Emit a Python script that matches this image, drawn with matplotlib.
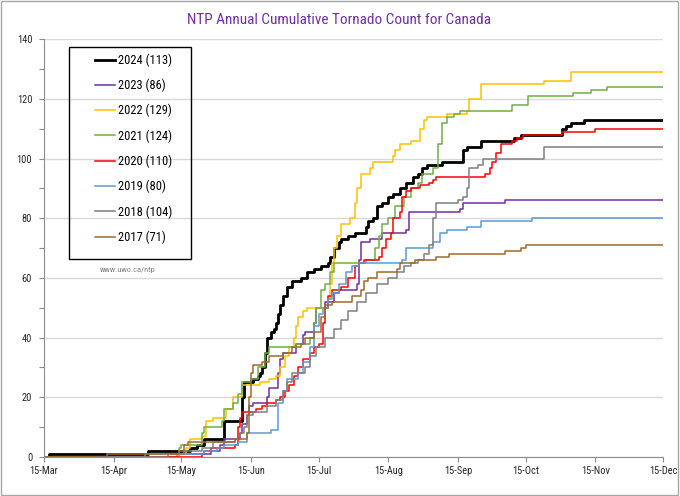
import numpy as np
import matplotlib
matplotlib.use('Agg')
import matplotlib.pyplot as plt
import matplotlib.dates as mdates
from matplotlib import font_manager
from matplotlib.patches import Rectangle
from matplotlib.ticker import MultipleLocator

# pick a narrow face if one is installed
names = {f.name for f in font_manager.fontManager.ttflist}
FONT = next((n for n in ['Roboto Condensed', 'Liberation Sans Narrow', 'Open Sans Condensed']
             if n in names), 'DejaVu Sans')
plt.rcParams['font.family'] = [FONT, 'DejaVu Sans']

START = np.datetime64('2023-03-15')   # day 0 of the season axis

# days after 15-Mar, cumulative count at that day
d24 = [0, 2, 46, 65, 68, 71, 80, 88, 89, 93, 95, 96, 97, 98, 99, 101, 102, 103, 104, 105,
       106, 108, 110, 114, 117, 120, 123, 126, 127, 129, 131, 132, 135, 138, 143, 144, 146, 148, 150, 153,
       155, 158, 161, 164, 166, 168, 170, 177, 186, 188, 194, 209, 212, 230, 232, 234, 240, 275]
v24 = [0, 1, 2, 3, 4, 6, 12, 20, 25, 26, 27, 28, 30, 35, 40, 42, 43, 45, 48, 51,
       54, 57, 59, 60, 62, 63, 64, 65, 67, 70, 72, 73, 74, 75, 77, 79, 80, 84, 85, 87,
       88, 90, 92, 94, 95, 97, 98, 99, 103, 104, 106, 107, 108, 110, 111, 112, 113, 113]

d23 = [0, 60, 74, 78, 80, 87, 88, 90, 91, 93, 99, 100, 104, 105, 106, 112, 115, 116, 120, 121,
       125, 129, 131, 139, 140, 141, 145, 150, 161, 162, 185, 186, 205, 275]
v23 = [0, 1, 2, 4, 6, 8, 11, 14, 17, 18, 20, 23, 28, 33, 35, 38, 41, 42, 45, 50,
       52, 55, 56, 58, 66, 72, 73, 75, 76, 82, 83, 85, 86, 86]

d22 = [0, 60, 63, 65, 70, 72, 75, 81, 84, 88, 96, 100, 103, 105, 107, 109, 111, 112, 113, 115,
       117, 126, 127, 128, 129, 130, 132, 136, 138, 139, 141, 145, 146, 155, 156, 158, 163, 167, 169, 170,
       179, 188, 189, 194, 222, 234, 275]
v22 = [0, 1, 3, 6, 7, 12, 13, 16, 20, 24, 25, 26, 27, 30, 34, 37, 40, 44, 47, 49,
       50, 53, 58, 65, 70, 74, 78, 80, 85, 90, 95, 97, 99, 101, 103, 105, 106, 110, 113, 114,
       115, 116, 120, 125, 126, 129, 129]

d21 = [0, 59, 60, 61, 70, 71, 79, 80, 84, 86, 88, 92, 95, 98, 100, 112, 118, 120, 121, 123,
       125, 127, 129, 143, 147, 149, 150, 153, 156, 160, 163, 166, 168, 173, 175, 177, 179, 182, 185, 208,
       215, 235, 243, 250, 275]
v21 = [0, 1, 3, 4, 8, 10, 12, 16, 18, 21, 25, 26, 30, 35, 37, 38, 40, 45, 50, 56,
       58, 62, 65, 66, 70, 74, 78, 80, 84, 87, 90, 92, 95, 97, 105, 112, 114, 115, 116, 118,
       121, 122, 123, 124, 124]

d20 = [0, 70, 71, 74, 85, 86, 87, 88, 94, 97, 99, 103, 105, 107, 109, 111, 113, 115, 118, 120,
       122, 124, 125, 126, 128, 132, 135, 138, 140, 142, 149, 150, 152, 154, 155, 158, 159, 161, 163, 167,
       171, 173, 174, 196, 198, 199, 201, 203, 208, 210, 213, 230, 245, 275]
v20 = [0, 1, 2, 3, 4, 10, 13, 15, 16, 17, 18, 19, 20, 22, 24, 27, 30, 33, 35, 37,
       38, 45, 50, 54, 56, 57, 60, 64, 65, 66, 67, 70, 73, 75, 80, 82, 87, 89, 90, 91,
       92, 93, 94, 95, 97, 99, 102, 105, 106, 107, 108, 109, 110, 110]

d19 = [0, 45, 71, 77, 80, 86, 90, 101, 104, 106, 108, 113, 115, 118, 120, 122, 124, 126, 128, 131,
       134, 137, 140, 159, 161, 173, 176, 179, 188, 194, 217, 275]
v19 = [0, 1, 2, 3, 4, 5, 8, 9, 18, 22, 26, 28, 32, 37, 44, 48, 50, 53, 55, 58,
       62, 64, 65, 66, 70, 72, 75, 76, 77, 79, 80, 80]

d18 = [0, 55, 62, 70, 75, 85, 87, 89, 90, 93, 99, 103, 106, 108, 110, 116, 118, 121, 125, 129,
       132, 135, 139, 143, 148, 153, 157, 160, 163, 166, 169, 171, 173, 174, 184, 186, 188, 189, 193, 195,
       222, 275]
v18 = [0, 1, 2, 3, 5, 6, 8, 10, 14, 15, 17, 19, 22, 25, 28, 30, 34, 37, 40, 43,
       46, 49, 52, 55, 58, 60, 62, 64, 65, 66, 68, 71, 80, 85, 86, 87, 90, 97, 98, 100,
       104, 104]

d17 = [0, 28, 60, 62, 64, 85, 90, 91, 92, 93, 97, 100, 106, 110, 114, 116, 120, 123, 125, 128,
       137, 141, 142, 144, 148, 157, 158, 165, 174, 180, 205, 212, 214, 275]
v17 = [0, 1, 2, 4, 5, 6, 8, 20, 28, 31, 32, 34, 35, 37, 38, 40, 42, 47, 51, 52,
       54, 56, 59, 60, 62, 63, 65, 66, 67, 68, 69, 70, 71, 71]

years = ['2024', '2023', '2022', '2021', '2020', '2019', '2018', '2017']
days = [d24, d23, d22, d21, d20, d19, d18, d17]
counts = [v24, v23, v22, v21, v20, v19, v18, v17]
colors = ['#000000', '#7030A0', '#FFC000', '#70AD47', '#FF0000', '#5B9BD5', '#7F7F7F', '#9C6A30']
widths = [2.0, 1.1, 1.1, 1.1, 1.1, 1.1, 1.1, 1.1]

fig = plt.figure(figsize=(6.8, 4.96), dpi=100)
ax = fig.add_axes([44/680, 1 - 457/496, 619/680, 417.7/496])

for yr, d, v, c, w in zip(years, days, counts, colors, widths):
    ax.plot(START + np.array(d), v, drawstyle='steps-post', color=c, lw=w,
            label=f'{yr} ({v[-1]})')

ax.set_xlim(START, START + np.timedelta64(275, 'D'))
ax.set_ylim(0, 140)
ax.xaxis.set_major_locator(mdates.MonthLocator(bymonthday=15))
ax.xaxis.set_major_formatter(mdates.DateFormatter('%d-%b'))
ax.yaxis.set_major_locator(MultipleLocator(20))
ax.yaxis.set_minor_locator(MultipleLocator(10))
ax.grid(axis='y', which='major', color='#D9D9D9', lw=1)
ax.set_axisbelow(True)

for s in ['top', 'right']:
    ax.spines[s].set_visible(False)
for s in ['left', 'bottom']:
    ax.spines[s].set_color('#8C8C8C')
ax.tick_params(which='both', length=3.5, width=0.8, color='#8C8C8C', labelsize=7.5,
               labelcolor='#262626')
ax.tick_params(axis='y', pad=5)
ax.tick_params(axis='x', pad=3)

# legend box drawn by hand so the padding matches
ax.add_patch(Rectangle((0.0404, 0.474), 0.197, 0.5076, transform=ax.transAxes,
                       fill=False, edgecolor='black', lw=1, zorder=5))
ax.legend(loc='upper left', bbox_to_anchor=(0.083, 0.966), frameon=False, fontsize=9,
          borderpad=0, borderaxespad=0, handlelength=1.6, handletextpad=0.2,
          labelspacing=0.95)
ax.text(0.136, 0.448, 'www.uwo.ca/ntp', transform=ax.transAxes, ha='center', va='center',
        fontsize=6, color='#808080')

fig.text(0.4985, 1 - 20/496, 'NTP Annual Cumulative Tornado Count for Canada',
         ha='center', va='center', fontsize=11, color='#7030A0')
fig.patches.append(Rectangle((0.002, 0.002), 0.995, 0.995, transform=fig.transFigure,
                             fill=False, edgecolor='#A6A6A6', lw=1))

fig.savefig('out.png', dpi=100)
